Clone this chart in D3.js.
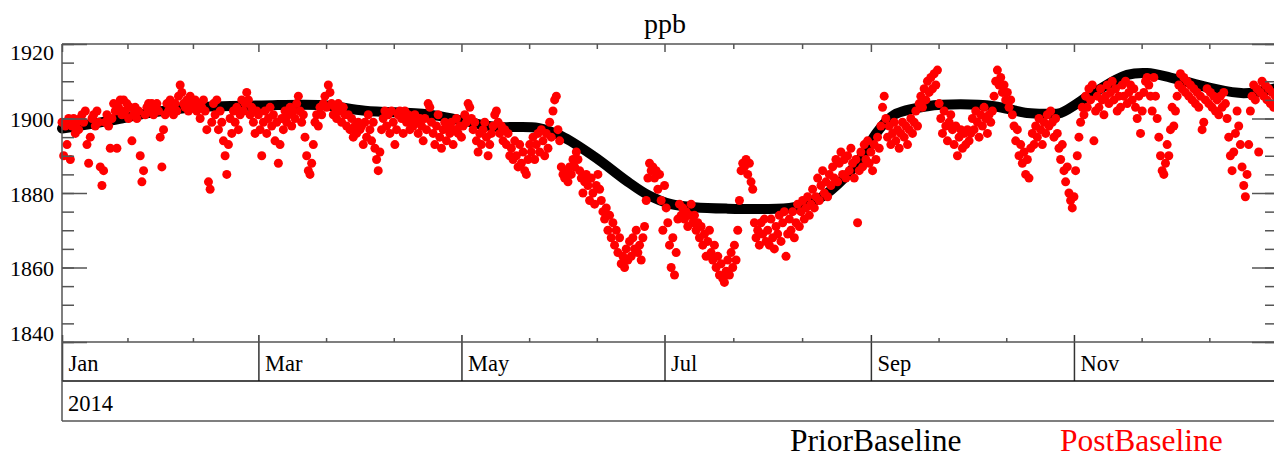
<!DOCTYPE html>
<html>
<head>
	<meta charset="utf-8">
	<title>ppb</title>
	<script type="text/javascript" src="https://cdn.jsdelivr.net/npm/d3@7"></script>
	<style type="text/css">
		body {
			margin: 0;
			background: #fff;
		}
		text {
			font-family: "Liberation Serif", "Times New Roman", serif;
		}
	</style>
</head>
<body>
	<div id="chart"></div>
	<script type="text/javascript">
		// smooth baseline (day of year, ppb)
		const baseDays = [0, 15, 25, 40, 60, 78, 91, 110, 120, 130, 143, 150, 160, 170, 176, 183, 190, 200, 210, 220,
			228, 235, 240, 245, 250, 260, 270, 280, 290, 296, 300, 310, 320, 326, 333, 345, 355, 365];
		const baseValues = [1897.3, 1899.5, 1901.3, 1903, 1903.5, 1903.6, 1902.1, 1901.1, 1899.5, 1897.8, 1897.5, 1895.3,
			1889.7, 1883, 1879.5, 1877, 1876.2, 1875.8, 1875.7, 1876.2, 1878.8, 1884, 1889.5, 1896.5, 1901, 1903.3,
			1903.8, 1903.3, 1901.5, 1901.3, 1901.5, 1907, 1911.7, 1912.2, 1911, 1908.2, 1906.8, 1908.2];

		// measurements, one value every 12 hours, per month
		const jan = [1899, 1890, 1898, 1893, 1900, 1889, 1898, 1900, 1896, 1899, 1897, 1900,
			1901, 1899, 1902, 1893, 1888, 1895, 1900, 1901, 1898, 1902, 1899, 1887,
			1882, 1886, 1899, 1901, 1898, 1892, 1900, 1904, 1902, 1892, 1903, 1905,
			1901, 1905, 1902, 1904, 1900, 1903, 1894, 1901, 1903, 1900, 1902, 1890,
			1883, 1886, 1901, 1903, 1904, 1902, 1904, 1901, 1903, 1904, 1902, 1895, 1887, 1897];
		const feb = [1901, 1904, 1902, 1905, 1903, 1901, 1904, 1902, 1906, 1909, 1907, 1904,
			1903, 1905, 1902, 1906, 1904, 1903, 1905, 1902, 1904, 1900, 1903, 1905,
			1902, 1897, 1883, 1881, 1899, 1904, 1901, 1905, 1897, 1902, 1899, 1894,
			1890, 1885, 1893, 1900, 1896, 1902, 1899, 1903, 1897, 1901, 1905, 1902,
			1904, 1907, 1905, 1901, 1903, 1899, 1896, 1902];
		const mar = [1901, 1897, 1890, 1899, 1902, 1896, 1900, 1903, 1898, 1901, 1894, 1899,
			1888, 1893, 1900, 1897, 1902, 1899, 1901, 1903, 1898, 1902, 1900, 1904,
			1906, 1902, 1899, 1901, 1895, 1890, 1886, 1885, 1888, 1893, 1899, 1901,
			1898, 1903, 1901, 1904, 1906, 1903, 1909, 1907, 1904, 1901, 1903, 1900,
			1904, 1902, 1899, 1903, 1901, 1898, 1901, 1897, 1900, 1895, 1898, 1896, 1899, 1897];
		const apr = [1898, 1893, 1899, 1895, 1901, 1897, 1894, 1899, 1892, 1889, 1886, 1891,
			1897, 1900, 1902, 1898, 1901, 1896, 1902, 1899, 1893, 1897, 1901, 1902,
			1900, 1896, 1902, 1899, 1901, 1897, 1900, 1898, 1901, 1899, 1896, 1900,
			1898, 1894, 1900, 1897, 1904, 1903, 1899, 1896, 1893, 1898, 1901, 1895,
			1892, 1897, 1899, 1894, 1898, 1896, 1899, 1893, 1897, 1900, 1896, 1898];
		const may = [1895, 1898, 1901, 1899, 1904, 1903, 1900, 1897, 1899, 1894, 1891, 1896,
			1893, 1897, 1899, 1895, 1890, 1893, 1896, 1898, 1901, 1902, 1899, 1896,
			1898, 1894, 1897, 1893, 1896, 1890, 1892, 1889, 1894, 1890, 1887, 1893,
			1888, 1891, 1886, 1885, 1889, 1893, 1891, 1895, 1889, 1893, 1896, 1891,
			1897, 1894, 1890, 1896, 1892, 1899, 1895, 1902, 1905, 1906, 1897, 1894, 1887, 1885];
		const jun = [1884, 1886, 1883, 1887, 1885, 1889, 1887, 1891, 1889, 1886, 1884, 1880,
			1883, 1885, 1882, 1878, 1884, 1880, 1877, 1882, 1885, 1881, 1878, 1875,
			1873, 1876, 1870, 1874, 1868, 1872, 1866, 1870, 1864, 1868, 1861, 1863,
			1860, 1865, 1862, 1867, 1863, 1868, 1865, 1870, 1864, 1866, 1862, 1868,
			1871, 1878, 1884, 1888, 1886, 1887, 1884, 1886, 1881, 1885, 1878, 1870];
		const jul = [1882, 1876, 1872, 1866, 1860, 1868, 1858, 1864, 1873, 1877, 1874, 1876,
			1873, 1875, 1871, 1874, 1877, 1872, 1874, 1870, 1872, 1868, 1871, 1866,
			1869, 1863, 1867, 1870, 1864, 1862, 1866, 1860, 1863, 1858, 1861, 1857,
			1856, 1859, 1862, 1858, 1864, 1860, 1866, 1862, 1870, 1878, 1886, 1888,
			1887, 1889, 1885, 1888, 1883, 1881, 1872, 1868, 1870, 1866, 1872, 1869, 1873, 1867];
		const aug = [1870, 1866, 1873, 1868, 1865, 1871, 1869, 1874, 1867, 1872, 1875, 1863,
			1869, 1873, 1870, 1875, 1868, 1872, 1877, 1871, 1875, 1878, 1873, 1876,
			1879, 1874, 1877, 1881, 1876, 1879, 1884, 1878, 1882, 1886, 1880, 1883,
			1879, 1885, 1882, 1887, 1884, 1889, 1883, 1888, 1891, 1885, 1889, 1884,
			1890, 1886, 1892, 1888, 1884, 1889, 1872, 1886, 1891, 1887, 1893, 1889, 1894, 1888];
		const sep = [1891, 1886, 1893, 1889, 1895, 1892, 1898, 1903, 1906, 1900, 1895, 1898,
			1893, 1896, 1899, 1894, 1897, 1892, 1896, 1899, 1895, 1898, 1893, 1897,
			1900, 1896, 1899, 1902, 1898, 1904, 1906, 1903, 1908, 1905, 1910, 1907,
			1911, 1908, 1912, 1909, 1913, 1904, 1900, 1896, 1902, 1898, 1894, 1899,
			1901, 1897, 1893, 1898, 1890, 1895, 1897, 1892, 1896, 1893, 1897, 1894];
		const oct = [1896, 1900, 1897, 1902, 1899, 1895, 1901, 1898, 1903, 1900, 1896, 1901,
			1899, 1902, 1906, 1910, 1913, 1909, 1911, 1907, 1909, 1905, 1907, 1903,
			1905, 1901, 1898, 1894, 1897, 1890, 1893, 1888, 1891, 1885, 1889, 1884,
			1892, 1896, 1893, 1898, 1895, 1900, 1897, 1893, 1899, 1896, 1901, 1898,
			1902, 1899, 1895, 1900, 1896, 1892, 1889, 1893, 1886, 1883, 1887, 1880, 1878, 1876];
		const nov = [1879, 1886, 1890, 1895, 1899, 1903, 1901, 1906, 1903, 1908, 1905, 1909,
			1894, 1902, 1906, 1903, 1908, 1905, 1901, 1906, 1909, 1904, 1907, 1910,
			1905, 1908, 1902, 1906, 1903, 1909, 1906, 1910, 1904, 1907, 1909, 1905,
			1908, 1903, 1900, 1906, 1896, 1902, 1907, 1910, 1911, 1909, 1906, 1902,
			1911, 1906, 1900, 1895, 1890, 1886, 1885, 1888, 1893, 1890, 1897, 1903];
		const dec = [1898, 1902, 1906, 1909, 1912, 1908, 1911, 1907, 1910, 1906, 1909, 1905,
			1908, 1904, 1907, 1903, 1906, 1897, 1899, 1905, 1908, 1904, 1907, 1903,
			1906, 1902, 1905, 1901, 1906, 1903, 1907, 1904, 1900, 1895, 1890, 1886,
			1891, 1896, 1902, 1898, 1893, 1887, 1882, 1879, 1885, 1893, 1902, 1906,
			1909, 1905, 1908, 1891, 1907, 1910, 1906, 1909, 1905, 1908, 1904, 1907, 1903, 1906];
		const monthly = [jan, feb, mar, apr, may, jun, jul, aug, sep, oct, nov, dec];

		const monthLabels = ["Jan", "Mar", "May", "Jul", "Sep", "Nov"];
		const yearLabel = "2014";
		const yMajor = [1840, 1860, 1880, 1900, 1920];
		const yMinor = d3.range(1840, 1921, 5);
		const legendLabels = ["PriorBaseline", "PostBaseline"];

		const width = 1274, height = 457;
		const plot = {left: 62, right: 1277, top: 44, bottom: 342};
		const monthBand = 381, yearBand = 421;

		const t0 = new Date(Date.UTC(2014, 0, 1));
		const t1 = new Date(Date.UTC(2015, 0, 1));

		const x = d3.scaleUtc().domain([t0, t1]).range([plot.left, plot.right]);
		const y = d3.scaleLinear().domain([1840, 1920]).range([plot.bottom, plot.top]);

		const baseline = baseDays.map((d, i) => ({date: d3.utcHour.offset(t0, d * 24), value: baseValues[i]}));
		const points = [];
		monthly.forEach(function (vals, m) {
			const start = new Date(Date.UTC(2014, m, 1));
			vals.forEach(function (v, i) {
				points.push({date: d3.utcHour.offset(start, i * 12), value: v});
			});
		});

		const svg = d3.select("#chart").append("svg")
			.attr("width", width)
			.attr("height", height);

		// title
		svg.append("text")
			.attr("x", 665)
			.attr("y", 33)
			.attr("text-anchor", "middle")
			.attr("font-size", 28)
			.text("ppb");

		// baseline curve
		const line = d3.line()
			.x(d => x(d.date))
			.y(d => y(d.value))
			.curve(d3.curveCatmullRom);

		svg.append("path")
			.datum(baseline)
			.attr("fill", "none")
			.attr("stroke", "#000")
			.attr("stroke-width", 10)
			.attr("stroke-linecap", "round")
			.attr("d", line);

		// red points
		svg.append("g")
			.selectAll("circle")
			.data(points)
			.join("circle")
			.attr("cx", d => x(d.date))
			.attr("cy", d => y(d.value))
			.attr("r", 4.5)
			.attr("fill", "#ff0000");

		// x ticks: every two months, with two minor ticks between
		const majorDates = d3.utcMonth.every(2).range(t0, d3.utcDay.offset(t1, 1));
		const minorDates = [];
		for (let i = 0; i < majorDates.length - 1; i++) {
			const a = +majorDates[i], b = +majorDates[i + 1];
			minorDates.push(new Date(a + (b - a) / 3), new Date(a + 2 * (b - a) / 3));
		}

		const axisColor = "#555";

		// top axis
		svg.append("g")
			.attr("transform", `translate(0,${plot.top})`)
			.call(d3.axisTop(x).tickValues(majorDates).tickSize(-8).tickFormat(""))
			.call(g => g.select(".domain").remove())
			.selectAll("line").attr("stroke", axisColor).attr("stroke-width", 1.5);
		svg.append("g")
			.attr("transform", `translate(0,${plot.top})`)
			.call(d3.axisTop(x).tickValues(minorDates).tickSize(-5).tickFormat(""))
			.call(g => g.select(".domain").remove())
			.selectAll("line").attr("stroke", axisColor).attr("stroke-width", 1.5);

		// bottom axis: minor ticks pointing up, major ticks crossing the month band
		svg.append("g")
			.attr("transform", `translate(0,${plot.bottom})`)
			.call(d3.axisBottom(x).tickValues(minorDates).tickSize(-4).tickFormat(""))
			.call(g => g.select(".domain").remove())
			.selectAll("line").attr("stroke", axisColor).attr("stroke-width", 1.5);

		const monthAxis = svg.append("g")
			.attr("transform", `translate(0,${plot.bottom - 7})`)
			.call(d3.axisBottom(x).tickValues(majorDates.slice(0, monthLabels.length))
				.tickSize(monthBand - plot.bottom + 7)
				.tickFormat((d, i) => monthLabels[i]))
			.call(g => g.select(".domain").remove());
		monthAxis.selectAll("line").attr("stroke", "#333").attr("stroke-width", 1.5);
		monthAxis.selectAll("text")
			.attr("y", 0)
			.attr("dy", 0)
			.attr("transform", "translate(6,36)")
			.attr("text-anchor", "start")
			.attr("font-size", 22.5)
			.attr("font-family", "Liberation Serif")
			.attr("fill", "#000");

		// year label
		svg.append("text")
			.attr("x", plot.left + 6)
			.attr("y", yearBand - 10)
			.attr("font-size", 22.5)
			.text(yearLabel);

		// y axes, ticks pointing inward
		const leftMinor = svg.append("g")
			.attr("transform", `translate(${plot.left},0)`)
			.call(d3.axisLeft(y).tickValues(yMinor).tickSize(-12).tickFormat(""))
			.call(g => g.select(".domain").remove());
		leftMinor.selectAll("line").attr("stroke", axisColor).attr("stroke-width", 1.5);

		const leftMajor = svg.append("g")
			.attr("transform", `translate(${plot.left},0)`)
			.call(d3.axisLeft(y).tickValues(yMajor).tickSize(-25).tickPadding(8).tickFormat(d3.format("d")))
			.call(g => g.select(".domain").remove());
		leftMajor.selectAll("line").attr("stroke", axisColor).attr("stroke-width", 1.5);
		leftMajor.selectAll("text")
			.attr("font-size", 22)
			.attr("font-family", "Liberation Serif")
			.attr("fill", "#000")
			.attr("dy", d => d === 1920 ? "0.72em" : d === 1840 ? "-0.08em" : "0.38em");

		const rightMinor = svg.append("g")
			.attr("transform", `translate(${plot.right},0)`)
			.call(d3.axisRight(y).tickValues(yMinor).tickSize(-12).tickFormat(""))
			.call(g => g.select(".domain").remove());
		rightMinor.selectAll("line").attr("stroke", axisColor).attr("stroke-width", 1.5);
		const rightMajor = svg.append("g")
			.attr("transform", `translate(${plot.right},0)`)
			.call(d3.axisRight(y).tickValues(yMajor).tickSize(-25).tickFormat(""))
			.call(g => g.select(".domain").remove());
		rightMajor.selectAll("line").attr("stroke", axisColor).attr("stroke-width", 1.5);

		// frame and bands
		const frame = svg.append("g")
			.attr("fill", "none")
			.attr("stroke-width", 1.5);
		frame.append("line")
			.attr("x1", plot.left).attr("x2", plot.right)
			.attr("y1", plot.top).attr("y2", plot.top)
			.attr("stroke", axisColor);
		frame.append("line")
			.attr("x1", plot.left).attr("x2", plot.right)
			.attr("y1", plot.bottom).attr("y2", plot.bottom)
			.attr("stroke", axisColor);
		frame.append("line")
			.attr("x1", plot.left).attr("x2", plot.right)
			.attr("y1", monthBand).attr("y2", monthBand)
			.attr("stroke", "#111");
		frame.append("line")
			.attr("x1", plot.left).attr("x2", plot.right)
			.attr("y1", yearBand).attr("y2", yearBand)
			.attr("stroke", axisColor);
		frame.append("line")
			.attr("x1", plot.left).attr("x2", plot.left)
			.attr("y1", plot.top).attr("y2", yearBand)
			.attr("stroke", axisColor);
		frame.append("line")
			.attr("x1", plot.right).attr("x2", plot.right)
			.attr("y1", plot.top).attr("y2", yearBand)
			.attr("stroke", axisColor);

		// legend
		svg.append("text")
			.attr("x", 790)
			.attr("y", 451)
			.attr("font-size", 31.5)
			.attr("fill", "#000")
			.text(legendLabels[0]);
		svg.append("text")
			.attr("x", 1060)
			.attr("y", 451)
			.attr("font-size", 31.5)
			.attr("fill", "#ff0000")
			.text(legendLabels[1]);
	</script>
</body>
</html>
